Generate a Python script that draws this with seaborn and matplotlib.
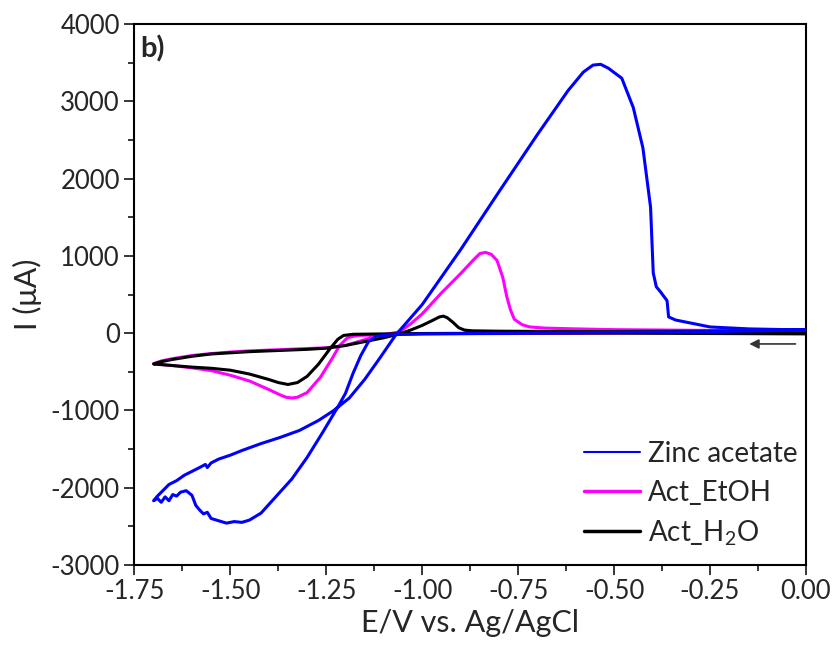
import numpy as np
import pandas as pd
import matplotlib
matplotlib.use('Agg')
import matplotlib.pyplot as plt
from matplotlib.lines import Line2D
from matplotlib.ticker import MultipleLocator, AutoMinorLocator
import seaborn as sns

# Zinc acetate (scan starts at 0 V, goes negative, then back)
zn_E = [0.00, -0.25, -0.50, -0.75, -1.00, -1.08, -1.12, -1.14, -1.16, -1.18, -1.20, -1.22, -1.26,
        -1.30, -1.34, -1.38, -1.42, -1.45, -1.47, -1.49, -1.51, -1.53, -1.55, -1.56, -1.57, -1.58,
        -1.59, -1.60, -1.615, -1.63, -1.64, -1.65, -1.66, -1.67, -1.68, -1.69, -1.70,
        -1.69, -1.68, -1.66, -1.64, -1.62, -1.60, -1.58, -1.565, -1.56, -1.55, -1.53, -1.50, -1.47,
        -1.42, -1.37, -1.32, -1.27, -1.23, -1.19, -1.15, -1.11, -1.07, -1.00, -0.90, -0.80, -0.70,
        -0.62, -0.58, -0.555, -0.535, -0.515, -0.48, -0.45, -0.425, -0.405, -0.398, -0.39, -0.38,
        -0.368, -0.362, -0.358, -0.34, -0.30, -0.25, -0.15, 0.00]
zn_I = [40, 20, 10, 0, -10, -20, -40, -110, -290, -517, -780, -957, -1290,
        -1610, -1890, -2110, -2330, -2420, -2450, -2440, -2460, -2430, -2400, -2320, -2340, -2290,
        -2230, -2100, -2040, -2060, -2110, -2090, -2170, -2120, -2190, -2140, -2170,
        -2110, -2060, -1960, -1910, -1840, -1790, -1740, -1700, -1740, -1680, -1630, -1580, -1520,
        -1430, -1350, -1260, -1130, -1000, -840, -600, -320, -30, 370, 1080, 1830, 2570,
        3140, 3380, 3470, 3480, 3430, 3300, 2920, 2400, 1630, 780, 600, 540,
        460, 420, 210, 170, 130, 80, 55, 40]

# Act_EtOH
et_E = [0.00, -0.25, -0.50, -0.75, -1.00, -1.10, -1.17, -1.195, -1.215, -1.235, -1.265, -1.30,
        -1.325, -1.34, -1.355, -1.37, -1.40, -1.45, -1.50, -1.55, -1.60, -1.65, -1.70,
        -1.68, -1.65, -1.60, -1.55, -1.50, -1.45, -1.40, -1.35, -1.30, -1.25, -1.20, -1.16, -1.13,
        -1.10, -1.06, -1.03, -1.00, -0.95, -0.90, -0.87, -0.85, -0.835, -0.82, -0.805, -0.79, -0.78,
        -0.77, -0.76, -0.74, -0.72, -0.68, -0.60, -0.50, -0.25, 0.00]
et_I = [20, 10, 0, -5, -10, -20, -30, -60, -160, -330, -570, -770,
        -830, -840, -830, -800, -730, -620, -545, -485, -450, -420, -395,
        -360, -330, -290, -265, -245, -230, -220, -210, -200, -190, -160, -100, -55,
        -20, 15, 120, 250, 520, 770, 930, 1030, 1045, 1020, 940, 720, 480,
        300, 180, 110, 80, 65, 55, 45, 35, 30]

# Act_H2O
wa_E = [0.00, -0.25, -0.50, -0.75, -1.00, -1.10, -1.18, -1.205, -1.22, -1.24, -1.27, -1.30,
        -1.325, -1.35, -1.375, -1.40, -1.45, -1.50, -1.55, -1.60, -1.65, -1.70,
        -1.68, -1.65, -1.60, -1.55, -1.50, -1.45, -1.40, -1.35, -1.30, -1.25, -1.20, -1.15, -1.10,
        -1.06, -1.03, -1.00, -0.975, -0.955, -0.945, -0.935, -0.92, -0.905, -0.89, -0.87, -0.80,
        -0.60, -0.30, 0.00]
wa_I = [-10, -5, 0, 0, -5, -10, -15, -30, -80, -200, -400, -560,
        -640, -665, -640, -600, -530, -480, -455, -440, -420, -400,
        -370, -340, -300, -270, -255, -240, -230, -220, -210, -195, -160, -110, -60,
        -10, 40, 100, 160, 210, 220, 200, 140, 70, 40, 30, 25,
        20, 25, 30]

names = ['Zinc acetate', 'Act_EtOH', 'Act_H$_2$O']
colors = ['#0000FF', '#FF00FF', '#000000']
xtick_labels = ['-1.75', '-1.50', '-1.25', '-1.00', '-0.75', '-0.50', '-0.25', '0.00']

sns.set_style('ticks')
plt.rcParams['font.family'] = ['Lato', 'DejaVu Sans']
plt.rcParams['axes.unicode_minus'] = False
plt.rcParams['mathtext.fontset'] = 'custom'
plt.rcParams['mathtext.rm'] = 'Lato'

fig = plt.figure(figsize=(8.4, 6.53), dpi=100)
ax = fig.add_axes([0.16, 0.135, 0.7995, 0.828])

curves = [(et_E, et_I, colors[1], 2), (wa_E, wa_I, colors[2], 3), (zn_E, zn_I, colors[0], 4)]
for E, I, c, z in curves:
    df = pd.DataFrame({'E': E, 'I': I})
    sns.lineplot(data=df, x='E', y='I', sort=False, estimator=None, color=c,
                 linewidth=2.2, ax=ax, zorder=z)

ax.set_xlim(-1.75, 0.0)
ax.set_ylim(-3000, 4000)
ax.set_xticks(np.arange(-1.75, 0.01, 0.25))
ax.set_xticklabels(xtick_labels)
ax.xaxis.set_minor_locator(AutoMinorLocator(2))
ax.yaxis.set_major_locator(MultipleLocator(1000))
ax.yaxis.set_minor_locator(AutoMinorLocator(2))
ax.tick_params(axis='both', which='major', direction='out', length=7, width=1.3,
               labelsize=18.5, top=False, right=False)
ax.tick_params(axis='both', which='minor', direction='out', length=4, width=1.3,
               top=False, right=False)
for s in ax.spines.values():
    s.set_linewidth(1.5)
    s.set_color('black')

ax.set_xlabel('E/V vs. Ag/AgCl', fontsize=22, labelpad=3)
ax.set_ylabel('I (\u03bcA)', fontsize=22, labelpad=6)

ax.text(0.008, 0.98, 'b)', transform=ax.transAxes, fontsize=21, fontweight='bold',
        va='top', ha='left')

ax.annotate('', xy=(-0.155, -140), xytext=(-0.02, -140),
            arrowprops=dict(arrowstyle='-|>', color='#333333', lw=1.2, mutation_scale=14))

handles = [Line2D([], [], color=colors[0], lw=1.5),
           Line2D([], [], color=colors[1], lw=2.5),
           Line2D([], [], color=colors[2], lw=2.5)]
ax.legend(handles, names, loc='lower right', bbox_to_anchor=(1.025, -0.015), frameon=False,
          fontsize=20, handlelength=2.0, handletextpad=0.3, labelspacing=0.45)

fig.savefig('out.png', dpi=100)
